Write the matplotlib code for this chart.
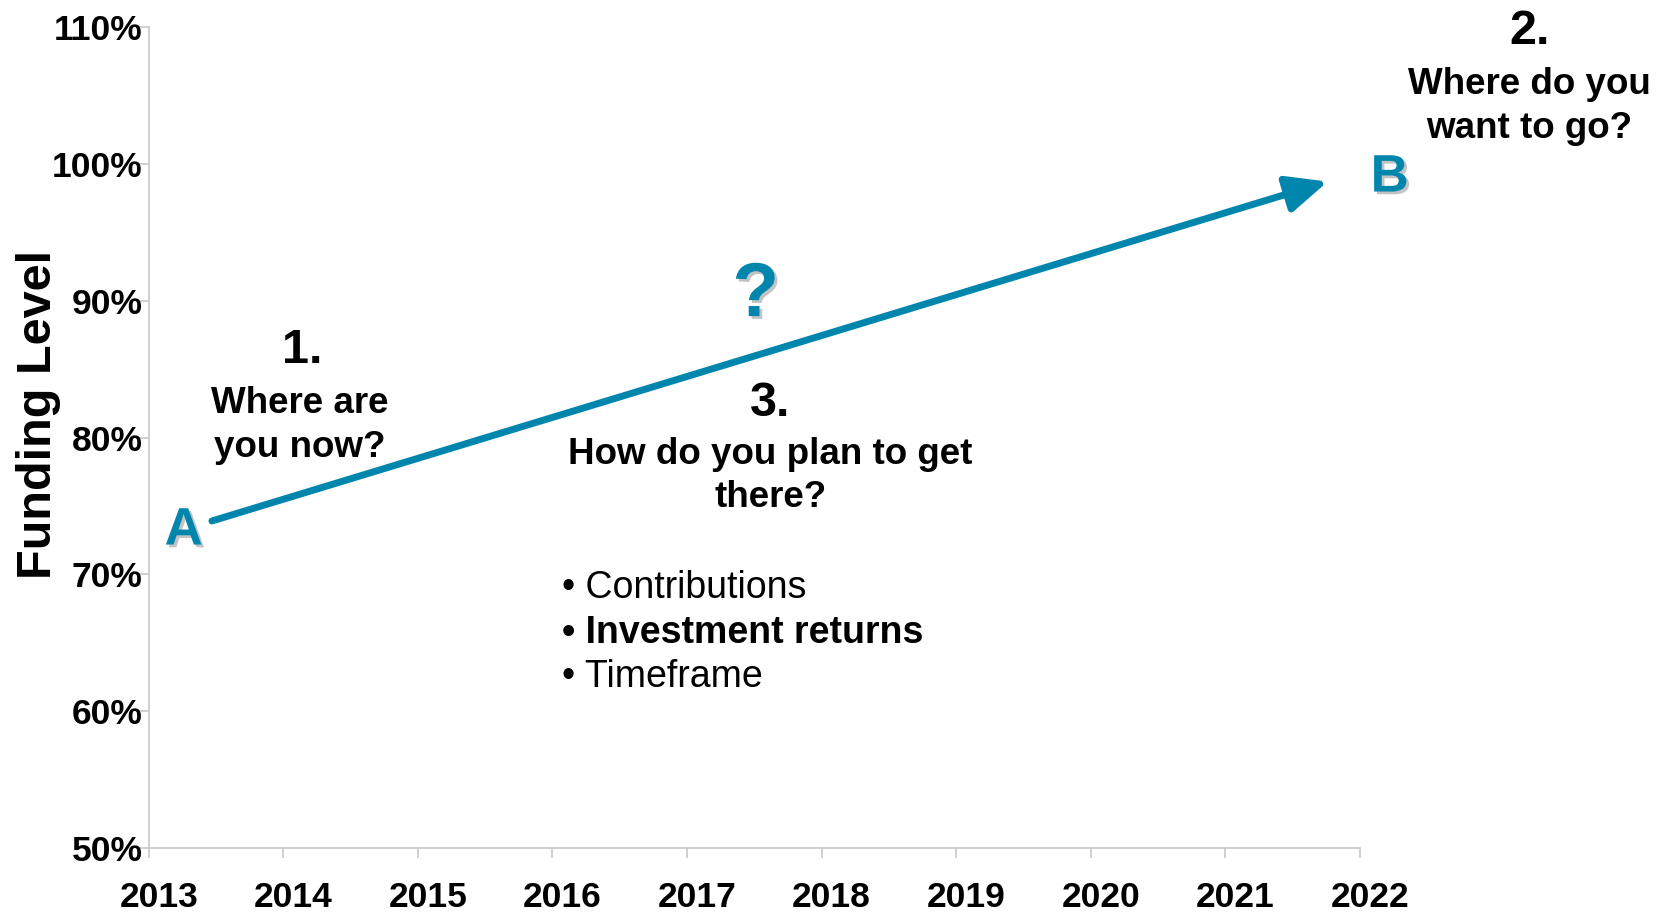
import matplotlib
matplotlib.use("Agg")
import matplotlib.pyplot as plt
import matplotlib.patheffects as pe
import matplotlib.transforms as mtransforms

plt.rcParams['font.family'] = ['Liberation Sans', 'DejaVu Sans']

# funding path from A to B
years = [2013.47, 2021.76]
funding = [73.9, 98.7]

year_ticks = list(range(2013, 2023))
pct_ticks = [50, 60, 70, 80, 90, 100, 110]
bullets = ["Contributions", "Investment returns", "Timeframe"]
bullet_weights = ["normal", "bold", "normal"]

teal = "#0086ad"

fig = plt.figure(figsize=(16.63, 9.13), dpi=100)
ax = fig.add_axes([0.0894, 0.0712, 0.7284, 0.8992])

ax.set_xlim(2013, 2022)
ax.set_ylim(50, 110)
ax.set_xticks(year_ticks)
ax.set_yticks(pct_ticks)
ax.set_xticklabels([str(y) for y in year_ticks])
ax.set_yticklabels([f"{p}%" for p in pct_ticks])

for s in ["top", "right"]:
    ax.spines[s].set_visible(False)
for s in ["left", "bottom"]:
    ax.spines[s].set_color("#c8c8c8")
    ax.spines[s].set_linewidth(1.2)

ax.tick_params(axis="both", colors="#c8c8c8", length=7.5, width=1.2, labelcolor="black")
ax.tick_params(axis="x", pad=16)
ax.tick_params(axis="y", pad=-3)
for lab in ax.get_xticklabels() + ax.get_yticklabels():
    lab.set_fontsize(25.5)
    lab.set_fontweight("bold")
# year labels sit a little right of their ticks
shift = mtransforms.ScaledTranslation(10 / 100, 0, fig.dpi_scale_trans)
for lab in ax.get_xticklabels():
    lab.set_transform(lab.get_transform() + shift)

ax.set_ylabel("Funding Level", fontsize=35, fontweight="bold")
ax.yaxis.set_label_coords(-0.0726, 0.528)

# the path arrow
ax.annotate("", xy=(years[1], funding[1]), xytext=(years[0], funding[0]),
            arrowprops=dict(arrowstyle="-|>,head_length=0.4,head_width=0.18",
                            mutation_scale=62, color=teal, lw=5,
                            shrinkA=0, shrinkB=0),
            annotation_clip=False)

shadow = [pe.SimplePatchShadow(offset=(2, -2), shadow_rgbFace="#888888", alpha=0.5), pe.Normal()]
ax.text(2013.26, 73.2, "A", color=teal, fontsize=38, fontweight="bold",
        ha="center", va="center", path_effects=shadow, clip_on=False)
ax.text(2022.22, 99.0, "B", color=teal, fontsize=38, fontweight="bold",
        ha="center", va="center", path_effects=shadow, clip_on=False)
ax.text(2017.51, 90.3, "?", color=teal, fontsize=55, fontweight="bold",
        ha="center", va="center", path_effects=shadow, clip_on=False)

ax.text(2014.14, 86.35, "1.", fontsize=35, fontweight="bold", ha="center", va="center")
ax.text(2014.12, 80.9, "Where are\nyou now?", fontsize=26.5, fontweight="bold",
        ha="center", va="center", linespacing=1.34)

ax.text(2023.26, 109.7, "2.", fontsize=35, fontweight="bold", ha="center", va="center",
        clip_on=False)
ax.text(2023.26, 104.2, "Where do you\nwant to go?", fontsize=26.5, fontweight="bold",
        ha="center", va="center", linespacing=1.34, clip_on=False)

ax.text(2017.62, 82.5, "3.", fontsize=35, fontweight="bold", ha="center", va="center")
ax.text(2017.62, 77.2, "How do you plan to get\nthere?", fontsize=26.5, fontweight="bold",
        ha="center", va="center", linespacing=1.29)

bullet_y = [69.0, 65.7, 62.5]
for txt, w, y in zip(bullets, bullet_weights, bullet_y):
    ax.text(2016.07, y, "\u2022 " + txt, fontsize=27, fontweight=w, ha="left", va="center")

fig.savefig("out.png", dpi=100)
